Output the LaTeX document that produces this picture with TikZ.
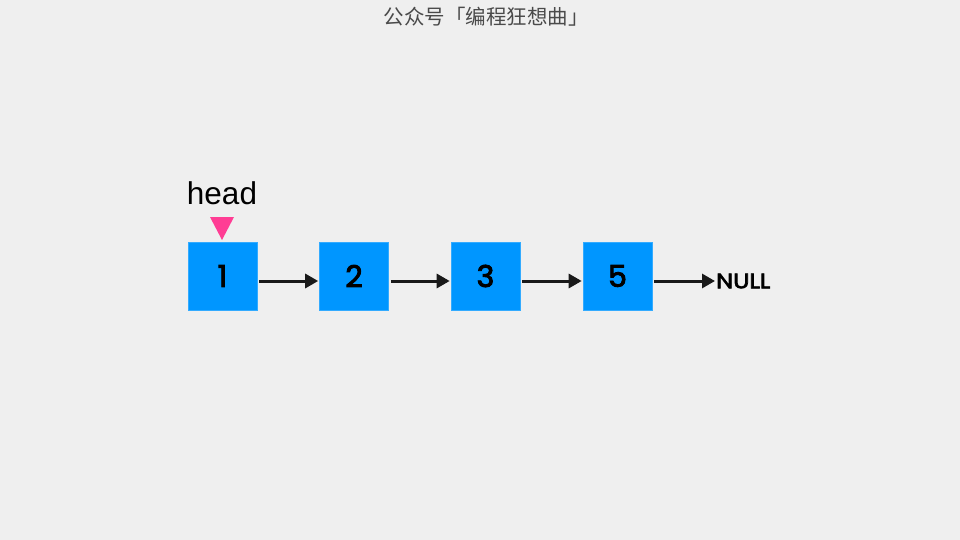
\documentclass[tikz,border=0pt]{standalone}
\usepackage{fontspec}
\setmainfont{Liberation Sans}
\newfontfamily\popfont{Poppins}[FakeBold=3]
\newfontfamily\cjk{Noto Sans CJK SC}
\usetikzlibrary{arrows.meta}
\definecolor{bg}{HTML}{EFEFEF}
\definecolor{boxblue}{HTML}{0096FF}
\definecolor{headpink}{HTML}{FF3D94}
\definecolor{titlegray}{HTML}{4A4A4A}
\tikzset{
  listbox/.style={fill=boxblue, draw=boxblue!80!white, line width=0.6pt, minimum width=69pt, minimum height=68pt, inner sep=0pt, font=\popfont\fontsize{30}{30}\selectfont, text=black},
  linkarrow/.style={-{Triangle[length=13pt,width=14pt]}, line width=3pt, black!90, shorten <=2pt, shorten >=1pt},
}
\begin{document}
\begin{tikzpicture}[x=1pt,y=-1pt]
\fill[bg] (0,0) rectangle (960,540);
\useasboundingbox (0,0) rectangle (960,540);
\node[font=\cjk\fontsize{20.5}{20.5}\selectfont, text=titlegray] (title) at (486,17) {公众号「编程狂想曲」};
\node[listbox] (n1) at (222.5,276) {1};
\node[listbox] (n2) at (354,276) {2};
\node[listbox] (n3) at (485.5,276) {3};
\node[listbox] (n5) at (617.5,276) {5};
\node[font=\popfont\fontsize{21}{21}\selectfont, anchor=west, inner sep=0pt] (null) at (716,281) {\scalebox{1.15}[1]{NULL}};
\node[font=\fontsize{31.5}{31.5}\selectfont, inner sep=0pt] (head) at (222,193) {head};
\coordinate (tipL) at (210,217);
\coordinate (tipR) at (234,217);
\coordinate (tip) at (222,240);
\fill[headpink] (tipL) -- (tipR) -- (tip) -- cycle;
\draw[linkarrow] ([yshift=-5pt]n1.east) -- ([yshift=-5pt]n2.west);
\draw[linkarrow] ([yshift=-5pt]n2.east) -- ([yshift=-5pt]n3.west);
\draw[linkarrow] ([yshift=-5pt]n3.east) -- ([yshift=-5pt]n5.west);
\draw[linkarrow] ([yshift=-5pt]n5.east) -- (null.west);
\end{tikzpicture}
\end{document}
